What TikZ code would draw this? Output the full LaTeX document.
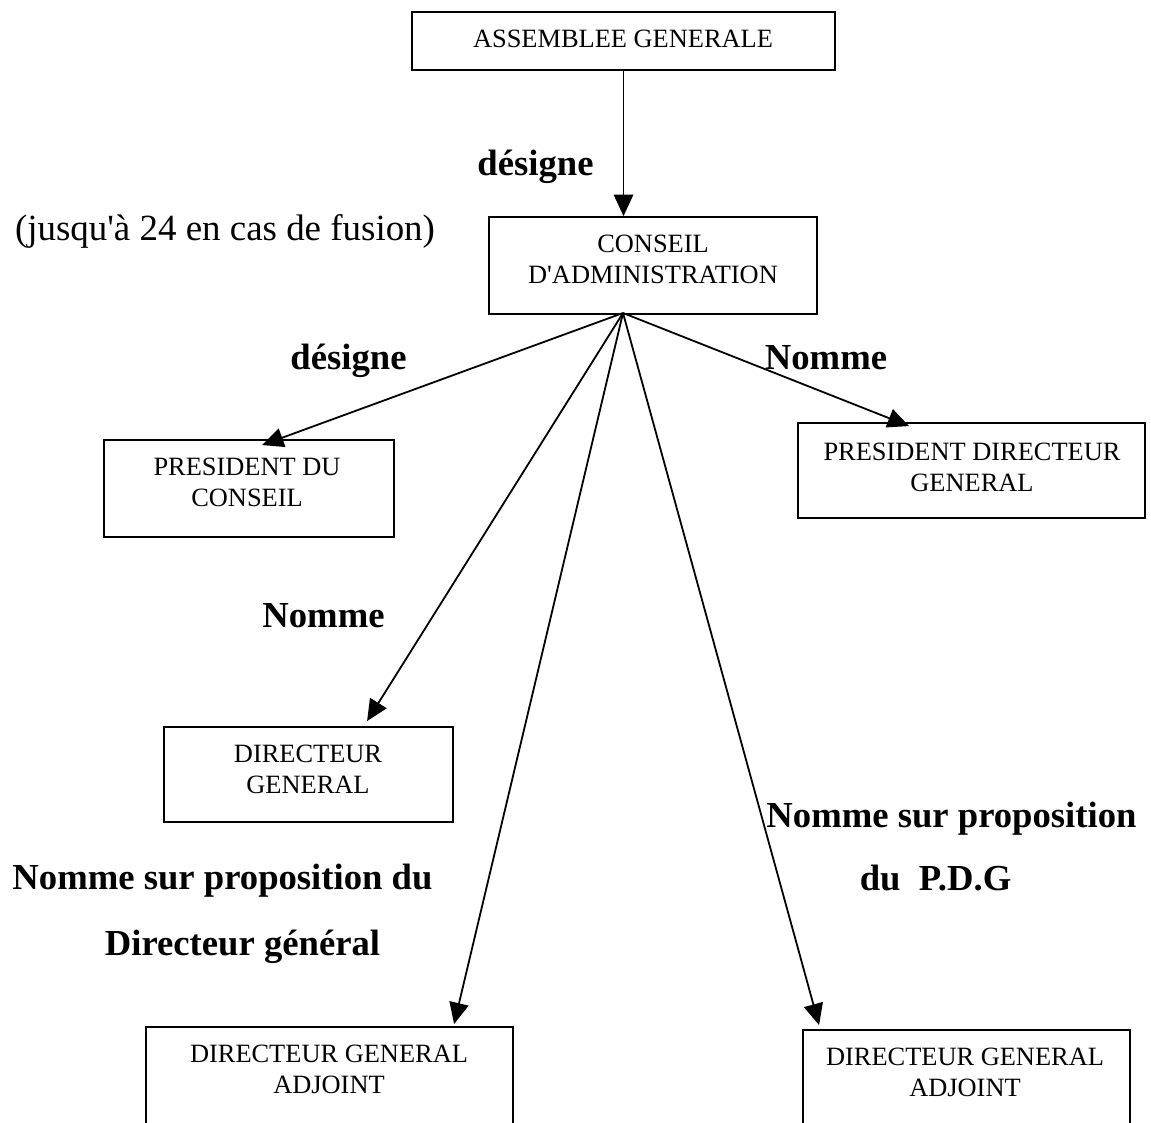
\documentclass[tikz,border=0pt]{standalone}
\usepackage{fontspec}
\setmainfont{Liberation Serif}
\usetikzlibrary{arrows.meta,calc}

\tikzset{
  orgbox/.style={draw, line width=1.4pt, inner sep=0pt},
  boxtext/.style={align=center, inner sep=0pt,
    font=\fontsize{19.8pt}{23.25pt}\selectfont},
  verb/.style={inner sep=0pt, align=center,
    font=\fontsize{27.5pt}{48pt}\selectfont\bfseries},
  note/.style={inner sep=0pt, font=\fontsize{27.7pt}{33pt}\selectfont},
  arr/.style={line width=1.35pt, -{Triangle[length=16pt,width=14.5pt]}}
}

\begin{document}
\begin{tikzpicture}[x=0.75pt, y=-0.75pt]
  \useasboundingbox (0,0) rectangle (1151,1122);
  \fill[white] (0,0) rectangle (1151,1122);
  \clip (0,0) rectangle (1151,1122);

  % boxes
  \node[orgbox, minimum width=317pt, minimum height=43.5pt] (ag) at (623.5,41) {};
  \node[orgbox, minimum width=246pt, minimum height=72.75pt] (ca) at (653,265.5) {};
  \node[orgbox, minimum width=217.5pt, minimum height=72.75pt] (pdc) at (249,488.5) {};
  \node[orgbox, minimum width=260.25pt, minimum height=71.25pt] (pdg) at (971.5,470.5) {};
  \node[orgbox, minimum width=216.75pt, minimum height=71.25pt] (dg) at (308.5,774.5) {};
  \node[orgbox, minimum width=275.25pt, minimum height=75pt] (dgal) at (329.5,1077) {};
  \node[orgbox, minimum width=245.25pt, minimum height=75pt] (dgar) at (966.5,1080) {};

  % box texts
  \node[boxtext] (tag) at (623,39) {ASSEMBLEE GENERALE};
  \node[boxtext] (tca) at (653,259) {CONSEIL\\D\textquotesingle ADMINISTRATION};
  \node[boxtext] (tpdc) at (247,482.5) {PRESIDENT DU\\CONSEIL};
  \node[boxtext] (tpdg) at (972,467) {PRESIDENT DIRECTEUR\\GENERAL};
  \node[boxtext] (tdg) at (308,769) {DIRECTEUR\\GENERAL};
  \node[boxtext] (tdgal) at (329,1069) {DIRECTEUR GENERAL\\ADJOINT};
  \node[boxtext] (tdgar) at (965,1072.5) {DIRECTEUR GENERAL\\ADJOINT};

  % labels
  \node[verb] (l1) at (535.5,167) {désigne};
  \node[note] (l2) at (225,231) {(jusqu\textquotesingle à 24 en cas de fusion)};
  \node[verb] (l3) at (348.5,361) {désigne};
  \node[verb] (l4) at (826,357.5) {Nomme};
  \node[verb] (l5) at (323.5,616) {Nomme};
  \node[verb] (l6) at (951.5,819) {Nomme sur proposition};
  \node[verb] (l7) at (935.5,878.5) {du\ \ P.D.G};
  \node[verb] (l8) at (222.5,880.5) {Nomme sur proposition du};
  \node[verb] (l9) at (242.5,946.5) {Directeur général};

  % connectors
  \coordinate (hub) at (623,313);
  \draw[arr] (ag.south) -- (ag.south |- ca.north);
  \draw[arr] (hub) -- ([shift={(159,6)}]pdc.north west);
  \draw[arr] (hub) -- ([shift={(112,4)}]pdg.north west);
  \draw[arr] (hub) -- ([shift={(204,-5)}]dg.north west);
  \draw[arr] (hub) -- ([shift={(309,-2)}]dgal.north west);
  \draw[arr] (hub) -- ([shift={(17,-4)}]dgar.north west);
\end{tikzpicture}
\end{document}
